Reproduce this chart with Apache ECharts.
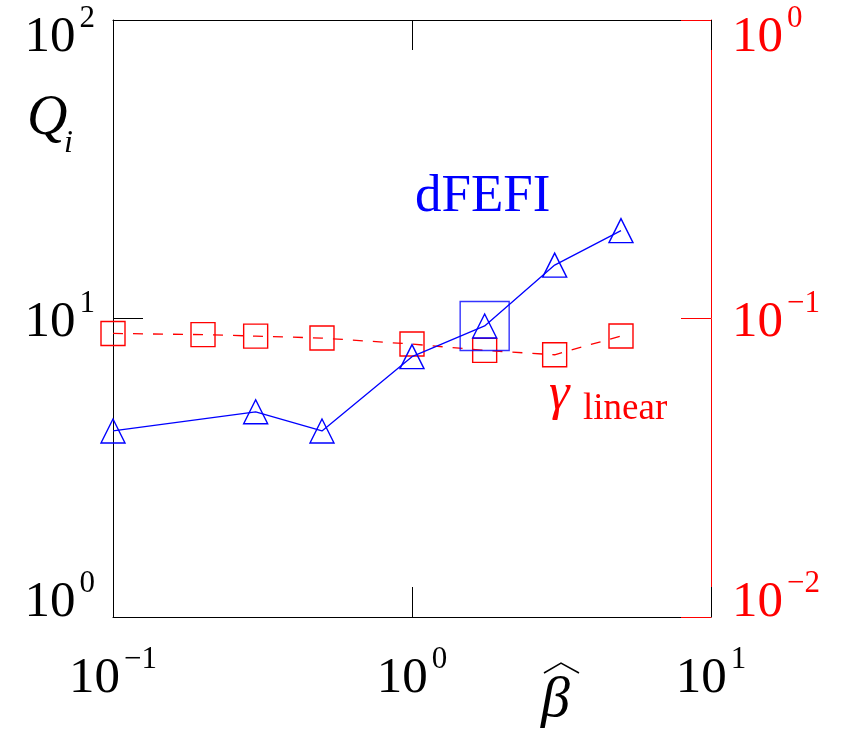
<!DOCTYPE html>
<html><head><meta charset="utf-8">
<script src="https://cdn.jsdelivr.net/npm/echarts@6/dist/echarts.min.js"></script>
<style>html,body{margin:0;padding:0;background:#fff}#c{width:852px;height:733px}</style>
</head><body><div id="c"></div>
<script>
// ---- data ----
const betaQ = [0.1, 0.3, 0.5, 1.0, 1.75, 3.0, 5.0];
const qDFEFI = [4.2, 4.87, 4.2, 7.45, 9.44, 15.1, 19.7];
const betaGamma = [0.1, 0.2, 0.3, 0.5, 1.0, 1.75, 3.0, 5.0];
const gammaLinear = [0.0891, 0.0883, 0.0873, 0.086, 0.0821, 0.0782, 0.0756, 0.0874];
const highlightBeta = [1.75];
const highlightQ = [9.44];
const xRange = [0.1, 10];
const yLeftRange = [1, 100];
const yRightRange = [0.01, 1];

const FONT = 'Liberation Serif';
const BLUE = '#0000ff';
const RED = '#ff0000';

function expOf(v) { return Math.round(Math.log10(v)); }
function supText(e) { return e < 0 ? '\u2212' + (-e) : String(e); }

function richSet(color) {
  const base = { fontFamily: FONT, fontSize: 51, color: color };
  const sup = { fontFamily: FONT, fontSize: 31, color: color, verticalAlign: 'top', padding: [0, 0, 0, 4] };
  return {
    d: Object.assign({}, base, { padding: [9, 0, 0, 0] }),
    s: Object.assign({}, sup),
    dT: Object.assign({}, base, { padding: [35, 0, 0, 0] }),
    sT: Object.assign({}, sup, { padding: [26, 0, 0, 4] }),
    dB: Object.assign({}, base, { padding: [9, 0, 38, 0] }),
    sB: Object.assign({}, sup, { padding: [0, 0, 38, 4] })
  };
}

function yFormatter(range) {
  return function (v) {
    const e = expOf(v);
    let sfx = '';
    if (e === expOf(range[1])) sfx = 'T';
    else if (e === expOf(range[0])) sfx = 'B';
    return '{d' + sfx + '|10}{s' + sfx + '|' + supText(e) + '}';
  };
}

const chart = echarts.init(document.getElementById('c'));
const option = {
  backgroundColor: '#fff',
  animation: false,
  grid: { left: 113, right: 141, top: 20, bottom: 116, containLabel: false },
  xAxis: [
    {
      type: 'log', logBase: 10, min: xRange[0], max: xRange[1], position: 'bottom',
      axisLine: { lineStyle: { color: '#000', width: 1 } },
      axisTick: { inside: true, length: 30, lineStyle: { color: '#000', width: 1 } },
      minorTick: { show: false }, splitLine: { show: false },
      axisLabel: {
        margin: 27,
        formatter: function (v) { return '{d|10}{s|' + supText(expOf(v)) + '}'; },
        rich: richSet('#000')
      }
    },
    {
      type: 'log', logBase: 10, min: xRange[0], max: xRange[1], position: 'top',
      axisLine: { lineStyle: { color: '#000', width: 1 } },
      axisTick: { inside: true, length: 30, lineStyle: { color: '#000', width: 1 } },
      minorTick: { show: false }, splitLine: { show: false },
      axisLabel: { show: false }
    }
  ],
  yAxis: [
    {
      type: 'log', logBase: 10, min: yLeftRange[0], max: yLeftRange[1], position: 'left',
      axisLine: { show: true, lineStyle: { color: '#000', width: 1 } },
      axisTick: { show: true, inside: true, length: 30, lineStyle: { color: '#000', width: 1 } },
      minorTick: { show: false }, splitLine: { show: false },
      axisLabel: { margin: 18, formatter: yFormatter(yLeftRange), rich: richSet('#000') }
    },
    {
      type: 'log', logBase: 10, min: yRightRange[0], max: yRightRange[1], position: 'right',
      axisLine: { show: true, lineStyle: { color: RED, width: 1 } },
      axisTick: { show: true, inside: true, length: 30, lineStyle: { color: RED, width: 1 } },
      minorTick: { show: false }, splitLine: { show: false },
      axisLabel: { margin: 21, formatter: yFormatter(yRightRange), rich: richSet(RED) }
    }
  ],
  series: [
    {
      name: 'gamma', type: 'line', xAxisIndex: 0, yAxisIndex: 1, clip: false,
      data: betaGamma.map((b, i) => [b, gammaLinear[i]]),
      symbol: 'rect', symbolSize: 24,
      lineStyle: { color: RED, width: 1.3, type: [10, 10] },
      itemStyle: { color: 'rgba(0,0,0,0)', borderColor: RED, borderWidth: 1.4 },
      z: 3
    },
    {
      name: 'dFEFI', type: 'line', xAxisIndex: 0, yAxisIndex: 0, clip: false,
      data: betaQ.map((b, i) => [b, qDFEFI[i]]),
      symbol: 'triangle', symbolSize: 24,
      lineStyle: { color: BLUE, width: 1.3 },
      itemStyle: { color: 'rgba(0,0,0,0)', borderColor: BLUE, borderWidth: 1.4 },
      z: 4
    },
    {
      name: 'highlight', type: 'scatter', xAxisIndex: 0, yAxisIndex: 0, clip: false,
      data: highlightBeta.map((b, i) => [b, highlightQ[i]]),
      symbol: 'rect', symbolSize: 49,
      itemStyle: { color: 'rgba(0,0,0,0)', borderColor: BLUE, borderWidth: 1.4 },
      z: 5
    }
  ],
  graphic: [
    { type: 'text', x: 415, y: 197, style: { text: 'dFEFI', font: '53px "Liberation Serif"', fill: BLUE, textVerticalAlign: 'middle' } },
    { type: 'text', x: 27, y: 119, style: { text: 'Q', font: 'italic 56px "Liberation Serif"', fill: '#000', textVerticalAlign: 'middle' } },
    { type: 'text', x: 64, y: 144, style: { text: 'i', font: 'italic 32px "Liberation Serif"', fill: '#000', textVerticalAlign: 'middle' } },
    { type: 'text', x: 549, y: 395, style: { text: '\u03b3', font: 'italic 52px "Liberation Serif"', fill: RED, textVerticalAlign: 'middle' } },
    { type: 'text', x: 583, y: 409, style: { text: 'linear', font: '37px "Liberation Serif"', fill: RED, textVerticalAlign: 'middle' } },
    { type: 'text', x: 541, y: 701, style: { text: '\u03b2', font: 'italic 58px "Liberation Serif"', fill: '#000', textVerticalAlign: 'middle' } },
    { type: 'polyline', shape: { points: [[544, 673], [561, 663], [579, 673]] }, style: { stroke: '#000', lineWidth: 1.5, fill: null } }
  ]
};
chart.setOption(option);
</script>
</body></html>
